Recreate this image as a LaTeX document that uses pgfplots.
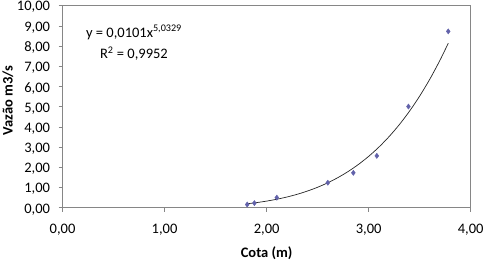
\documentclass[border=0pt]{standalone}
\usepackage{fontspec}
\setmainfont{Carlito}
\usepackage{pgfplots}
\pgfplotsset{compat=1.18}
\definecolor{axisgray}{RGB}{134,134,134}
\definecolor{ptblue}{RGB}{98,98,170}

\begin{document}
\begin{tikzpicture}[font=\fontsize{14.5pt}{17.5pt}\selectfont]
\begin{axis}[
  scale only axis,
  width=408pt, height=202pt,
  xmin=0, xmax=4, ymin=0, ymax=10,
  xtick={0,1,2,3,4},
  ytick={0,1,...,10},
  xtick pos=left, ytick pos=left,
  tick align=outside,
  major tick length=4pt,
  axis line style={axisgray, line width=0.8pt},
  tick style={axisgray, line width=0.8pt},
  xticklabel style={yshift=-9pt},
  yticklabel style={xshift=-5pt, yshift=-1.5pt, inner ysep=1pt},
  xlabel={\bfseries Cota (m)},
  ylabel={\bfseries Vazão m3/s},
  xlabel style={at={(axis description cs:0.5,-0.225)}, anchor=center},
  ylabel style={at={(axis description cs:-0.134,0.53)}, anchor=center, rotate=0},
  /pgf/number format/fixed,
  /pgf/number format/fixed zerofill,
  /pgf/number format/precision=2,
  /pgf/number format/use comma,
  /pgf/number format/assume math mode=true,
]
% power trendline y = 0.0101 x^5.0329, tabulated
\addplot[black!85, line width=0.7pt, smooth] coordinates {
  (1.81,0.2001) (1.9,0.2554) (2.0,0.3307) (2.1,0.4228) (2.2,0.5342)
  (2.3,0.6681) (2.4,0.8277) (2.5,1.0166) (2.6,1.2384) (2.7,1.4974)
  (2.8,1.798) (2.9,2.1457) (3.0,2.5445) (3.1,3.0012) (3.2,3.521)
  (3.3,4.111) (3.4,4.777) (3.5,5.528) (3.6,6.370) (3.7,7.311)
  (3.78,8.142)
};
% measured discharge
\addplot[only marks, mark=diamond*, mark size=2.6pt, ptblue] coordinates {
  (1.81,0.16) (1.88,0.23) (2.10,0.50) (2.60,1.24)
  (2.85,1.73) (3.08,2.57) (3.39,5.01) (3.78,8.73)
};
\node[anchor=base] at (axis cs:0.70,8.45) {y = 0,0101x\textsuperscript{5,0329}};
\node[anchor=base] at (axis cs:0.70,7.37) {R\textsuperscript{2} = 0,9952};
\end{axis}
\pgfresetboundingbox
\useasboundingbox ([xshift=-62.5pt,yshift=-59pt]current axis.south west)
  rectangle ([xshift=15.3pt,yshift=5.7pt]current axis.north east);
\end{tikzpicture}
\end{document}
